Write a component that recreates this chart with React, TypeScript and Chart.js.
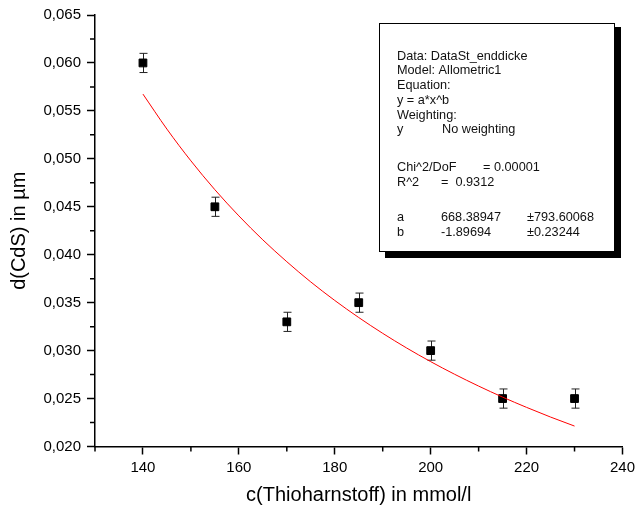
import React, { useEffect, useRef } from 'react';
import { Chart, registerables } from 'chart.js';

Chart.register(...registerables);

// ---- data ----
const concentrations = [140, 155, 170, 185, 200, 215, 230];
const thickness = [0.06, 0.045, 0.033, 0.035, 0.03, 0.025, 0.025];
const thicknessError = [0.001, 0.001, 0.001, 0.001, 0.001, 0.001, 0.001];

// fitted curve
const fitX = [140, 145, 150, 155, 160, 165, 170, 175, 180, 185, 190, 195, 200, 205, 210, 215, 220, 225, 230];
const fitY = [0.05675, 0.0531, 0.04979, 0.04678, 0.04405, 0.04155, 0.03927, 0.03716, 0.03523, 0.03345, 0.0318, 0.03027, 0.02885, 0.02753, 0.0263, 0.02515, 0.02408, 0.02307, 0.02213];

const xMajorTicks = [140, 160, 180, 200, 220, 240];
const xMinorTicks = [130, 150, 170, 190, 210, 230];
const yMajorTicks = [0.02, 0.025, 0.03, 0.035, 0.04, 0.045, 0.05, 0.055, 0.06, 0.065];
const yMinorTicks = [0.0225, 0.0275, 0.0325, 0.0375, 0.0425, 0.0475, 0.0525, 0.0575, 0.0625];

const xTitle = 'c(Thioharnstoff) in mmol/l';
const yTitle = 'd(CdS) in µm';

const reportRows: string[][] = [
  ['Data: DataSt_enddicke'],
  ['Model: Allometric1'],
  ['Equation:'],
  ['y = a*x^b'],
  ['Weighting:'],
  ['y', 'No weighting'],
  ['Chi^2/DoF', '= 0.00001'],
  ['R^2', '=  0.9312'],
  ['a', '668.38947', '±793.60068'],
  ['b', '-1.89694', '±0.23244'],
];

const FONT = "'Liberation Sans', Arial, Helvetica, sans-serif";

export default function App() {
  const canvasRef = useRef<HTMLCanvasElement | null>(null);

  useEffect(() => {
    const canvas = canvasRef.current;
    if (!canvas) return;

    const minorTicksPlugin = {
      id: 'minorTicks',
      afterDraw(chart: any) {
        const { ctx, scales } = chart;
        const xs = scales.x;
        const ys = scales.y;
        ctx.save();
        ctx.strokeStyle = '#000';
        ctx.lineWidth = 1.5;
        ctx.beginPath();
        yMinorTicks.forEach((v) => {
          const py = ys.getPixelForValue(v);
          ctx.moveTo(xs.left - 5, py);
          ctx.lineTo(xs.left, py);
        });
        xMinorTicks.forEach((v) => {
          const px = xs.getPixelForValue(v);
          ctx.moveTo(px, ys.bottom);
          ctx.lineTo(px, ys.bottom + 5);
        });
        ctx.stroke();
        ctx.restore();
      },
    };

    const errorBarsPlugin = {
      id: 'errorBars',
      beforeDatasetsDraw(chart: any) {
        const { ctx, scales } = chart;
        const xs = scales.x;
        const ys = scales.y;
        ctx.save();
        ctx.strokeStyle = '#222';
        ctx.lineWidth = 1;
        ctx.beginPath();
        concentrations.forEach((c, i) => {
          const px = Math.round(xs.getPixelForValue(c)) + 0.5;
          const top = ys.getPixelForValue(thickness[i] + thicknessError[i]);
          const bot = ys.getPixelForValue(thickness[i] - thicknessError[i]);
          ctx.moveTo(px, top);
          ctx.lineTo(px, bot);
          ctx.moveTo(px - 4, top);
          ctx.lineTo(px + 4, top);
          ctx.moveTo(px - 4, bot);
          ctx.lineTo(px + 4, bot);
        });
        ctx.stroke();
        ctx.restore();
      },
    };

    const reportPlugin = {
      id: 'fitReport',
      afterDraw(chart: any) {
        const { ctx } = chart;
        ctx.save();
        // shadow
        ctx.fillStyle = '#000';
        ctx.fillRect(385, 27, 236, 231);
        // box
        ctx.fillStyle = '#fff';
        ctx.fillRect(379, 23, 236, 229);
        ctx.strokeStyle = '#000';
        ctx.lineWidth = 1;
        ctx.strokeRect(379.5, 23.5, 235, 228);
        ctx.fillStyle = '#111';
        ctx.font = `12.7px ${FONT}`;
        ctx.textBaseline = 'alphabetic';
        ctx.textAlign = 'left';
        const baselines = [59.5, 74.3, 89, 103.8, 118.5, 133.3, 170.5, 185.5, 221, 236];
        const colX: number[][] = [
          [397], [397], [397], [397], [397],
          [397, 442],
          [397, 483],
          [397, 441],
          [397, 441, 527],
          [397, 441, 527],
        ];
        reportRows.forEach((row, r) => {
          row.forEach((txt, c) => {
            ctx.fillText(txt, colX[r][c], baselines[r]);
          });
        });
        ctx.restore();
      },
    };

    const chart = new Chart(canvas, {
      type: 'scatter',
      data: {
        datasets: [
          {
            label: 'Allometric1 fit',
            data: fitX.map((x, i) => ({ x, y: fitY[i] })),
            showLine: true,
            borderColor: '#ff0000',
            borderWidth: 1,
            pointRadius: 0,
            pointHoverRadius: 0,
            cubicInterpolationMode: 'monotone',
            fill: false,
          } as any,
          {
            label: 'DataSt_enddicke',
            data: concentrations.map((x, i) => ({ x, y: thickness[i] })),
            pointStyle: 'rect',
            pointRadius: 5.5,
            pointBackgroundColor: '#000',
            pointBorderColor: '#000',
            pointBorderWidth: 1,
            showLine: false,
          },
        ],
      },
      options: {
        responsive: false,
        animation: false,
        events: [],
        layout: { padding: { left: 0, top: 14.5, right: 16, bottom: 0 } },
        plugins: {
          legend: { display: false },
          tooltip: { enabled: false },
          title: { display: false },
        },
        scales: {
          x: {
            type: 'linear',
            min: 130,
            max: 240,
            afterBuildTicks: (s: any) => {
              s.ticks = xMajorTicks.map((value) => ({ value }));
            },
            afterFit: (s: any) => {
              s.height = 63.5;
            },
            ticks: {
              autoSkip: false,
              maxRotation: 0,
              padding: 4,
              color: '#000',
              font: { family: FONT, size: 15 },
              callback: (v: any) => String(v),
            },
            grid: {
              drawOnChartArea: false,
              drawTicks: true,
              tickLength: 8,
              tickColor: '#000',
              tickWidth: 1.5,
              color: '#000',
            },
            border: { display: true, color: '#000', width: 1.5 },
            title: {
              display: true,
              text: xTitle,
              color: '#000',
              font: { family: FONT, size: 20 },
              padding: { top: 0, bottom: 3 },
            },
          },
          y: {
            type: 'linear',
            min: 0.02,
            max: 0.065,
            afterBuildTicks: (s: any) => {
              s.ticks = yMajorTicks.map((value) => ({ value }));
            },
            afterFit: (s: any) => {
              s.width = 95;
            },
            ticks: {
              autoSkip: false,
              padding: 6,
              color: '#000',
              font: { family: FONT, size: 15 },
              callback: (v: any) => Number(v).toFixed(3).replace('.', ','),
            },
            grid: {
              drawOnChartArea: false,
              drawTicks: true,
              tickLength: 8,
              tickColor: '#000',
              tickWidth: 1.5,
              color: '#000',
            },
            border: { display: true, color: '#000', width: 1.5 },
            title: {
              display: true,
              text: yTitle,
              color: '#000',
              font: { family: FONT, size: 20 },
              padding: { top: 7.5, bottom: 0 },
            },
          },
        },
      },
      plugins: [errorBarsPlugin, minorTicksPlugin, reportPlugin],
    });

    return () => chart.destroy();
  }, []);

  return (
    <div style={{ position: 'fixed', left: 0, top: 0, width: 639, height: 510, background: '#fff' }}>
      <canvas ref={canvasRef} width={639} height={510} style={{ display: 'block', width: 639, height: 510 }} />
    </div>
  );
}
